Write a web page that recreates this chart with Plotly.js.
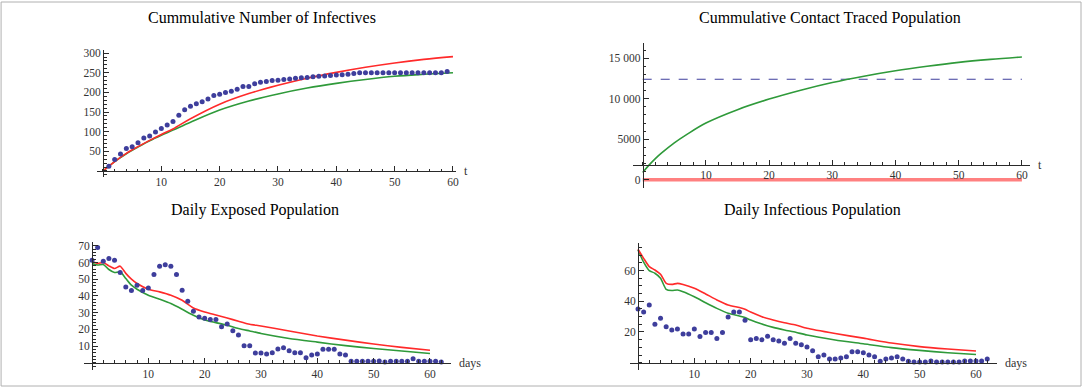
<!DOCTYPE html>
<html><head><meta charset="utf-8">
<script src="https://cdn.plot.ly/plotly-3.0.1.min.js"></script>
<style>html,body{margin:0;padding:0;background:#fff}#c{width:1090px;height:387px}</style>
</head><body><div id="c"></div>
<script>
// ---------- DATA ----------
// Panel 1: Cumulative number of infectives
const cumDotDays = [1,2,3,4,5,6,7,8,9,10,11,12,13,14,15,16,17,18,19,20,21,22,23,24,25,26,27,28,29,30,31,32,33,34,35,36,37,38,39,40,41,42,43,44,45,46,47,48,49,50,51,52,53,54,55,56,57,58,59];
const cumDots = [12,29,43,57,62,72,84,89,99,108,117,126,142,156,165,171,176,183,192,195,200,203,208,215,215,222,226,228,230,231,233,234,236,237,238,240,241,242,243,244,245,246,248,250,250,250,250,250,250,250,250,250,250,250,250,250,250,250,253];
const cumDays = [0,2,4,6,8,10,12,15,20,25,30,35,40,45,50,55,60];
const cumRed = [0,24,45,62,78,93,107,133,170,197,218,236,251,264,275,284,291];
const cumGreen = [0,24,44,61,77,91,104,124,155,178,196,211,223,233,241,246,250];

// Panel 2: Cumulative contact traced population
const ctDays = [0,1,2,3,5,7,10,15,20,25,30,35,40,45,50,55,60];
const ctGreen = [900,1800,2600,3300,4550,5600,7000,8650,9950,11050,12000,12780,13450,14000,14480,14850,15150];
const ctRedDays = [0,60];
const ctRed = [0,0];
const ctDashDays = [0,60];
const ctDash = [12400,12400];

// Panel 3: Daily exposed population
const dailyDays = [0,1,2,3,4,5,6,7,8,9,10,11,12,13,14,15,16,17,18,19,20,21,22,23,24,25,26,27,28,29,30,31,32,33,34,35,36,37,38,39,40,41,42,43,44,45,46,47,48,49,50,51,52,53,54,55,56,57,58,59,60,61,62];
const expDots = [61.4,69,60.8,62.4,61.4,54,45.4,43.2,46.4,43.2,44.8,52.8,57.8,58.6,57.8,52.8,43.4,36.8,30.8,27.4,26.6,25.8,25.8,21.6,23.2,19.2,16.6,10.2,10.2,5.8,5.8,5.2,6,8.2,9,7.2,6,6,3,4.6,5.2,8,8,8,5.2,4.6,0.8,0.8,0.8,0.8,0.8,1,0.4,0.8,0.8,0.8,0.8,2.4,0.8,0.8,0.8,0.8,0.4];
const expDays = [0,1,2,3,4,5,6,7,8,10,12,14,16,18,20,22,24,26,28,30,35,40,45,50,55,60];
const expRed = [60.8,59.5,60,58,56.4,57.8,53.5,50,47.4,44,42.4,40.4,37.4,32.8,30.4,28.6,26.8,24.8,23,22,19,16,13.5,11.2,9.2,7.5];
const expGreen = [59.4,58.5,58.8,55.8,54,54.4,50.4,46.4,44,40.4,38,35.4,32,28.4,25.6,24,22.4,20.5,19,17.5,14.5,12.3,10.2,8.5,7,5.5];

// Panel 4: Daily infectious population
const infDots = [35,33,37.6,25,28.9,23.5,21.3,22,18.7,18.7,22,17,19.6,19.6,15.7,19.6,29.8,33,33,27.6,15,15.7,15,17.2,15,14.1,12.6,15.7,12.6,11.7,10.2,7.8,3.9,5,2.4,2.4,3,3.9,7.2,7.2,6.5,5,3.9,0.9,2.4,3,3.9,2.4,0.9,0.4,0.4,0.4,1.1,0.4,0.4,0.4,0.4,0.4,1.1,1.1,1.1,1.1,2.4];
const infDays = [0,1,2,3,4,5,6,7,8,10,12,14,16,18,19,20,22,24,26,28,30,35,40,45,50,55,60];
const infRed = [73.9,68,62.6,60.4,57.6,51.7,51,51.7,51,48.5,44.8,40.9,37.6,35.9,34.8,33,30,27.8,26,24.6,22.4,19,16,12.8,10.5,8.9,7.6];
const infGreen = [73.5,65.5,60,58.3,55,47.8,47,47.4,46.3,43,39.1,35.4,32.2,30.4,29.4,27.8,25.2,23,21.3,19.8,18,14.8,12.3,9.8,8,6.5,5.3];

const titles = ["Cummulative Number of Infectives","Cummulative Contact Traced Population","Daily Exposed Population","Daily Infectious Population"];
const xTickVals = [10,20,30,40,50,60];
const yTicks1 = [50,100,150,200,250,300];
const yTicks2 = [0,5000,10000,15000];
const yTickText2 = ["0","5000","10 000","15 000"];
const yTicks3 = [10,20,30,40,50,60,70];
const yTicks4 = [20,40,60];

// ---------- LAYOUT HELPERS ----------
const W = 1090, H = 387;
const RED = '#ff2a2a', GREEN = '#2f9a3a', DOT = '#3e3e9c', AX = '#2a2a2a';
const tickFont = {family:'Liberation Serif, serif', size:11.5, color:'#333'};
const P = [
  {x0:103, kx:5.833, xr:[-1,60.5], y0:171, ky:0.393, yr:[-15,308], cross:0, lab:'t'},
  {x0:642.7, kx:6.32, xr:[-1.5,61.3], y0:179.7, ky:0.0081, yr:[-1000,16900], cross:1860, lab:'t'},
  {x0:92, kx:5.633, xr:[-1.5,63.8], y0:362.7, ky:1.67, yr:[-4.4,72.4], cross:0, lab:'days'},
  {x0:638, kx:5.633, xr:[-1.4,63.7], y0:362.7, ky:1.535, yr:[-4.7,77.8], cross:0, lab:'days'}
];
function xd(p){return [(p.x0+p.xr[0]*p.kx)/W,(p.x0+p.xr[1]*p.kx)/W];}
function yd(p){return [(H-(p.y0-p.yr[0]*p.ky))/H,(H-(p.y0-p.yr[1]*p.ky))/H];}
function yFrac(p,v){return (H-(p.y0-v*p.ky))/H;}

const yTickSets = [
  {tickvals:yTicks1, minor:10},
  {tickvals:yTicks2, ticktext:yTickText2, minor:1000},
  {tickvals:yTicks3, minor:2},
  {tickvals:yTicks4, minor:5}
];

const layout = {
  width:W, height:H, margin:{l:0,r:0,t:0,b:0},
  paper_bgcolor:'#fff', plot_bgcolor:'rgba(0,0,0,0)', showlegend:false,
  annotations:[], shapes:[
    {type:'rect', xref:'paper', yref:'paper', x0:0.001, x1:1081/W, y0:1/H, y1:1-2/H, line:{color:'#b0b0b0', width:1}}
  ]
};
const titlePos = [[262,18],[830,18],[255,210],[812,210]];
P.forEach((p,i)=>{
  const s = i===0?'':String(i+1);
  const ys = yTickSets[i];
  layout['xaxis'+s] = {
    domain:xd(p), range:p.xr, anchor:'free', position:yFrac(p,p.cross),
    showgrid:false, zeroline:false, showline:true, linecolor:AX, linewidth:1,
    ticks:'inside', ticklen:5, tickcolor:AX, tickwidth:1,
    tickmode:'array', tickvals:xTickVals, tickfont:tickFont,
    minor:{ticks:'inside', ticklen:2.5, tickcolor:AX, dtick:2, tick0:0, showgrid:false},
    fixedrange:true
  };
  const ya = {
    domain:yd(p), range:p.yr, anchor:'free', position:p.x0/W,
    showgrid:false, zeroline:false, showline:true, linecolor:AX, linewidth:1,
    ticks:'inside', ticklen:5, tickcolor:AX, tickwidth:1,
    tickmode:'array', tickvals:ys.tickvals, tickfont:tickFont,
    minor:{ticks:'inside', ticklen:2.5, tickcolor:AX, dtick:ys.minor, tick0:0, showgrid:false},
    fixedrange:true
  };
  if(ys.ticktext) ya.ticktext = ys.ticktext;
  layout['yaxis'+s] = ya;
  layout.annotations.push({text:titles[i], xref:'paper', yref:'paper', x:titlePos[i][0]/W, y:1-titlePos[i][1]/H,
    xanchor:'center', yanchor:'middle', showarrow:false, font:{family:'Liberation Serif, serif', size:16, color:'#000'}});
  layout.annotations.push({text:p.lab, xref:'x'+s, yref:'y'+s, x:p.xr[1], y:p.cross, xanchor:'left', yanchor:'middle', xshift:6,
    showarrow:false, font:{family:'Liberation Serif, serif', size:12, color:'#333'}});
});

function line(x,y,color,i,w,dash,sm){
  const s = i===0?'':String(i+1);
  return {type:'scatter', mode:'lines', x:x, y:y, xaxis:'x'+s, yaxis:'y'+s,
    line:{color:color, width:w||1.6, shape:'spline', smoothing:sm||0.6, dash:dash||'solid'}, hoverinfo:'skip', cliponaxis:false};
}
function dots(x,y,i){
  const s = i===0?'':String(i+1);
  return {type:'scatter', mode:'markers', x:x, y:y, xaxis:'x'+s, yaxis:'y'+s,
    marker:{color:DOT, size:5, symbol:'circle'}, hoverinfo:'skip', cliponaxis:false};
}

const data = [
  line(cumDays,cumGreen,GREEN,0,1.6,null,1), line(cumDays,cumRed,RED,0,1.6,null,1), dots(cumDotDays,cumDots,0),
  line(ctDashDays,ctDash,'#3e3e9c',1,1,'dash'), line(ctDays,ctGreen,GREEN,1,1.6,null,1), line(ctRedDays,ctRed,'#ff8080',1,3.5),
  line(expDays,expGreen,GREEN,2), line(expDays,expRed,RED,2), dots(dailyDays,expDots,2),
  line(infDays,infGreen,GREEN,3), line(infDays,infRed,RED,3), dots(dailyDays,infDots,3)
];

Plotly.newPlot('c', data, layout, {staticPlot:true, displayModeBar:false});
</script>
</body></html>
